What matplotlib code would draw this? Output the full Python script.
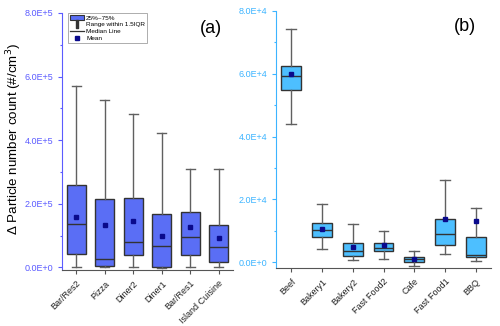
import matplotlib
matplotlib.use('Agg')
import matplotlib.pyplot as plt
from matplotlib.patches import Patch
from matplotlib.lines import Line2D
from matplotlib.ticker import MultipleLocator, FuncFormatter

plt.rcParams['font.family'] = ['Liberation Sans', 'DejaVu Sans']

# --- DADOS ---
labels_a = ['Bar/Res2', 'Pizza', 'Diner2', 'Diner1', 'Bar/Res1', 'Island Cuisine']
whislo_a = [0.01e5, 0.0, 0.0, -0.01e5, 0.03e5, 0.0]
q1_a = [0.41e5, 0.04e5, 0.38e5, 0.0, 0.40e5, 0.18e5]
med_a = [1.37e5, 0.26e5, 0.81e5, 0.68e5, 0.97e5, 0.65e5]
q3_a = [2.60e5, 2.15e5, 2.17e5, 1.69e5, 1.73e5, 1.33e5]
whishi_a = [5.72e5, 5.25e5, 4.84e5, 4.22e5, 3.10e5, 3.10e5]
mean_a = [1.59e5, 1.33e5, 1.47e5, 1.00e5, 1.27e5, 0.94e5]

labels_b = ['Beef', 'Bakery1', 'Bakery2', 'Fast Food2', 'Cafe', 'Fast Food1', 'BBQ']
whislo_b = [4.40e4, 0.42e4, 0.05e4, 0.10e4, -0.12e4, 0.27e4, 0.02e4]
q1_b = [5.47e4, 0.80e4, 0.19e4, 0.35e4, 0.0, 0.54e4, 0.16e4]
med_b = [5.94e4, 1.02e4, 0.35e4, 0.46e4, 0.10e4, 0.88e4, 0.24e4]
q3_b = [6.26e4, 1.23e4, 0.61e4, 0.61e4, 0.15e4, 1.37e4, 0.80e4]
whishi_b = [7.44e4, 1.85e4, 1.20e4, 0.99e4, 0.34e4, 2.60e4, 1.73e4]
mean_b = [6.00e4, 1.04e4, 0.47e4, 0.55e4, 0.10e4, 1.38e4, 1.31e4]

COR_A = '#5a6ef5'
COR_B = '#4dbfff'
EIXO_A = '#5b5bff'
EIXO_B = '#3cb4ff'


def fmt_sci(v, pos):
    if v == 0:
        return '0.0E+0'
    exp = int(f'{v:e}'.split('e')[1])
    return f'{v / 10**exp:.1f}E+{exp}'


def painel(ax, labels, lo, q1, med, q3, hi, mean, cor, cor_eixo, step, ymin, ymax):
    stats = []
    for i in range(len(labels)):
        stats.append(dict(label=labels[i], whislo=lo[i], q1=q1[i], med=med[i],
                          q3=q3[i], whishi=hi[i], mean=mean[i]))
    ax.bxp(stats, showmeans=True, showfliers=False, patch_artist=True, widths=0.65,
           capwidths=0.32,
           boxprops=dict(facecolor=cor, edgecolor='#333333', linewidth=1.0),
           medianprops=dict(color='#333333', linewidth=1.0),
           whiskerprops=dict(color='#606060', linewidth=1.0),
           capprops=dict(color='#606060', linewidth=1.0),
           meanprops=dict(marker='s', markerfacecolor='#0a0a8c', markeredgecolor='#0a0a8c',
                          markersize=3.3))
    ax.set_ylim(ymin, ymax)
    ax.set_xlim(0.5, len(labels) + 0.5)
    ax.yaxis.set_major_locator(MultipleLocator(step))
    ax.yaxis.set_minor_locator(MultipleLocator(step / 2))
    ax.yaxis.set_major_formatter(FuncFormatter(fmt_sci))
    ax.spines['top'].set_visible(False)
    ax.spines['right'].set_visible(False)
    ax.spines['left'].set_color(cor_eixo)
    ax.spines['bottom'].set_color('#555555')
    ax.tick_params(axis='y', colors=cor_eixo, labelsize=6.5, length=3, width=0.8)
    ax.tick_params(axis='y', which='minor', colors=cor_eixo, length=1.5, width=0.8)
    ax.tick_params(axis='x', colors='#555555', length=3, width=0.8, labelsize=6.5,
                   labelcolor='#222222')
    ax.set_xticklabels(labels, rotation=45, ha='right', rotation_mode='anchor')


fig = plt.figure(figsize=(5.0, 3.26), dpi=100)
ax1 = fig.add_axes([62 / 500, 1 - 270 / 326, 171 / 500, 257 / 326])
ax2 = fig.add_axes([276 / 500, 1 - 268 / 326, 215 / 500, 257 / 326])

painel(ax1, labels_a, whislo_a, q1_a, med_a, q3_a, whishi_a, mean_a,
       COR_A, EIXO_A, 2e5, -0.08e5, 8e5)
painel(ax2, labels_b, whislo_b, q1_b, med_b, q3_b, whishi_b, mean_b,
       COR_B, EIXO_B, 2e4, -0.19e4, 8e4)

ax1.set_ylabel('Δ Particle number count (#/cm$^3$)', fontsize=9.6, labelpad=3)
ax1.yaxis.set_label_coords(-0.22, 0.51)

ax1.text(0.87, 0.94, '(a)', transform=ax1.transAxes, fontsize=13, ha='center', va='center')
ax2.text(0.88, 0.94, '(b)', transform=ax2.transAxes, fontsize=13, ha='center', va='center')

handles = [
    Patch(facecolor=COR_A, edgecolor='#333333', linewidth=0.8),
    Line2D([], [], linestyle='none', marker='$\\mathrm{I}$', color='#333333', markersize=6),
    Line2D([], [], color='#333333', linewidth=0.9),
    Line2D([], [], linestyle='none', marker='s', color='#0a0a8c', markersize=2.5),
]
nomes = ['25%~75%', 'Range within 1.5IQR', 'Median Line', 'Mean']
leg = ax1.legend(handles, nomes, loc='upper left', bbox_to_anchor=(0.035, 1.0),
                 fontsize=4.6, frameon=True, fancybox=False, handlelength=2.2,
                 handleheight=1.0, labelspacing=0.12, borderpad=0.25, handletextpad=0.4,
                 borderaxespad=0.0)
leg.get_frame().set_edgecolor('#888888')
leg.get_frame().set_linewidth(0.6)

fig.savefig('out.png', dpi=100)
